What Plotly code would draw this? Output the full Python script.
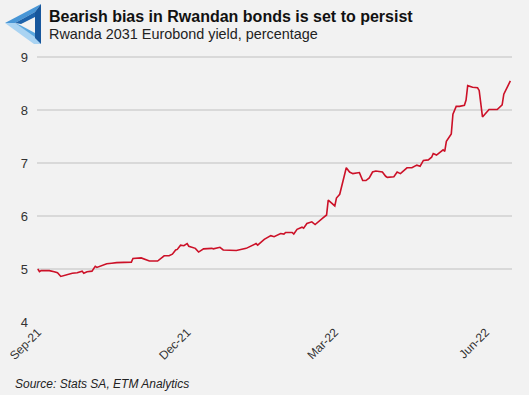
import plotly.graph_objects as go

# ---- data ----
dates = [
    "2021-09-01", "2021-09-02", "2021-09-03", "2021-09-08", "2021-09-11", "2021-09-13",
    "2021-09-15", "2021-09-19", "2021-09-22", "2021-09-25", "2021-09-28", "2021-09-29",
    "2021-10-01", "2021-10-04", "2021-10-06", "2021-10-07", "2021-10-10", "2021-10-13",
    "2021-10-16", "2021-10-19", "2021-10-28", "2021-10-29", "2021-11-03", "2021-11-05",
    "2021-11-08", "2021-11-10", "2021-11-13", "2021-11-17", "2021-11-20", "2021-11-22",
    "2021-11-24", "2021-11-25", "2021-11-27", "2021-11-29", "2021-12-01", "2021-12-02",
    "2021-12-06", "2021-12-08", "2021-12-11", "2021-12-16", "2021-12-17", "2021-12-21",
    "2021-12-23", "2021-12-31", "2022-01-02", "2022-01-06", "2022-01-12", "2022-01-13",
    "2022-01-17", "2022-01-21", "2022-01-23", "2022-01-27", "2022-01-29", "2022-01-30",
    "2022-02-03", "2022-02-04", "2022-02-06", "2022-02-09", "2022-02-10", "2022-02-12",
    "2022-02-15", "2022-02-17", "2022-02-22", "2022-02-24", "2022-02-25", "2022-02-27",
    "2022-03-01", "2022-03-02", "2022-03-04", "2022-03-08", "2022-03-10", "2022-03-12",
    "2022-03-16", "2022-03-18", "2022-03-20", "2022-03-22", "2022-03-24", "2022-03-26",
    "2022-03-30", "2022-04-01", "2022-04-02", "2022-04-06", "2022-04-08", "2022-04-10",
    "2022-04-14", "2022-04-17", "2022-04-20", "2022-04-22", "2022-04-24", "2022-04-27",
    "2022-04-29", "2022-04-30", "2022-05-02", "2022-05-06", "2022-05-07", "2022-05-08",
    "2022-05-11", "2022-05-12", "2022-05-14", "2022-05-16", "2022-05-19", "2022-05-20",
    "2022-05-21", "2022-05-24", "2022-05-27", "2022-05-28", "2022-05-30", "2022-06-03",
    "2022-06-08", "2022-06-11", "2022-06-12", "2022-06-16",
]
yields = [
    5.00, 4.95, 4.97, 4.97, 4.95, 4.93,
    4.86, 4.90, 4.92, 4.93, 4.96, 4.92,
    4.95, 4.96, 5.05, 5.03, 5.07, 5.10,
    5.11, 5.12, 5.13, 5.20, 5.21, 5.18,
    5.15, 5.15, 5.15, 5.25, 5.25, 5.28,
    5.36, 5.37, 5.45, 5.44, 5.48, 5.43,
    5.39, 5.32, 5.38, 5.39, 5.38, 5.41,
    5.36, 5.35, 5.36, 5.39, 5.48, 5.45,
    5.56, 5.63, 5.61, 5.67, 5.66, 5.69,
    5.69, 5.66, 5.75, 5.79, 5.77, 5.86,
    5.89, 5.84, 5.97, 6.02, 6.30, 6.24,
    6.19, 6.34, 6.41, 6.91, 6.83, 6.80,
    6.82, 6.67, 6.67, 6.72, 6.83, 6.85,
    6.83, 6.75, 6.73, 6.74, 6.83, 6.80,
    6.91, 6.91, 6.96, 6.94, 7.05, 7.06,
    7.11, 7.18, 7.15, 7.25, 7.22, 7.41,
    7.55, 7.92, 8.07, 8.07, 8.09, 8.19,
    8.46, 8.43, 8.42, 8.37, 7.87, 8.01,
    8.01, 8.10, 8.30, 8.55,
]
tick_dates = ["2021-09-01", "2021-12-01", "2022-03-01", "2022-06-01"]
tick_labels = ["Sep-21", "Dec-21", "Mar-22", "Jun-22"]
y_ticks = [4, 5, 6, 7, 8, 9]

title = "Bearish bias in Rwandan bonds is set to persist"
subtitle = "Rwanda 2031 Eurobond yield, percentage"
source = "Source: Stats SA, ETM Analytics"

BG = "#f2f2f2"
FONT = "Liberation Sans, Arial, sans-serif"
W, H = 529, 395
ML, MR, MT, MB = 37, 17, 56, 73
plot_w = W - ML - MR
plot_h = H - MT - MB


def px_x(px):
    return (px - ML) / plot_w


def px_y(py):
    return (H - MB - py) / plot_h


fig = go.Figure()
fig.add_trace(go.Scatter(
    x=dates, y=yields, mode="lines",
    line=dict(color="#cc1128", width=1.6),
    hoverinfo="x+y", showlegend=False,
))

# logo (impossible-triangle style mark), drawn in pixel space
def P(px, py):
    return f"{px_x(px):.4f},{px_y(py):.4f}"


logo_px = [
    ([(5, 23), (15, 23), (35, 36), (41, 44), (34, 44)], "#a9d3f2"),
    ([(15, 23), (20, 25), (35, 33), (35, 37)], "#5aa7df"),
    ([(5, 23), (41, 4), (35, 12), (15, 23)], "#4896d6"),
    ([(15, 23), (35, 12), (35, 17), (21, 24)], "#1d63ab"),
    ([(41, 4), (41, 44), (35, 38), (35, 12)], "#16569c"),
]
shapes = []
for pts, col in logo_px:
    path = "M " + " L ".join(P(*p) for p in pts) + " Z"
    shapes.append(dict(type="path", xref="paper", yref="paper", path=path,
                       fillcolor=col, line=dict(width=0), layer="above"))

fig.update_layout(
    width=W, height=H,
    paper_bgcolor=BG, plot_bgcolor=BG,
    margin=dict(l=ML, r=MR, t=MT, b=MB, autoexpand=False),
    font=dict(family=FONT, color="#333333", size=13),
    xaxis=dict(
        type="date", automargin=False,
        range=["2021-08-31 12:00", "2022-06-17"],
        tickvals=tick_dates, ticktext=tick_labels,
        tickangle=-45, showgrid=False, zeroline=False, showline=False,
        tickfont=dict(size=12, color="#333333"), ticks="",
    ),
    yaxis=dict(
        automargin=False,
        range=[4, 9.02], tickvals=y_ticks, ticktext=[str(v) for v in y_ticks],
        showgrid=True, gridcolor="#d9d9d9", gridwidth=1.5,
        zeroline=False, showline=False, ticks="",
        tickfont=dict(size=13, color="#333333"), ticklabelstandoff=8,
    ),
    shapes=shapes,
    annotations=[
        dict(text="<b>" + title + "</b>", xref="paper", yref="paper",
             x=px_x(47), y=px_y(16), xanchor="left", yanchor="middle", showarrow=False,
             font=dict(size=16, color="#111111", family=FONT)),
        dict(text=subtitle, xref="paper", yref="paper",
             x=px_x(47), y=px_y(34), xanchor="left", yanchor="middle", showarrow=False,
             font=dict(size=14.4, color="#222222", family=FONT)),
        dict(text="<i>" + source + "</i>", xref="paper", yref="paper",
             x=px_x(13), y=px_y(384), xanchor="left", yanchor="middle", showarrow=False,
             font=dict(size=12, color="#222222", family=FONT)),
    ],
)

fig.write_html(
    "out.html",
    config={"displayModeBar": False},
    post_script="document.body.style.margin='0';document.body.style.overflow='hidden';",
)
